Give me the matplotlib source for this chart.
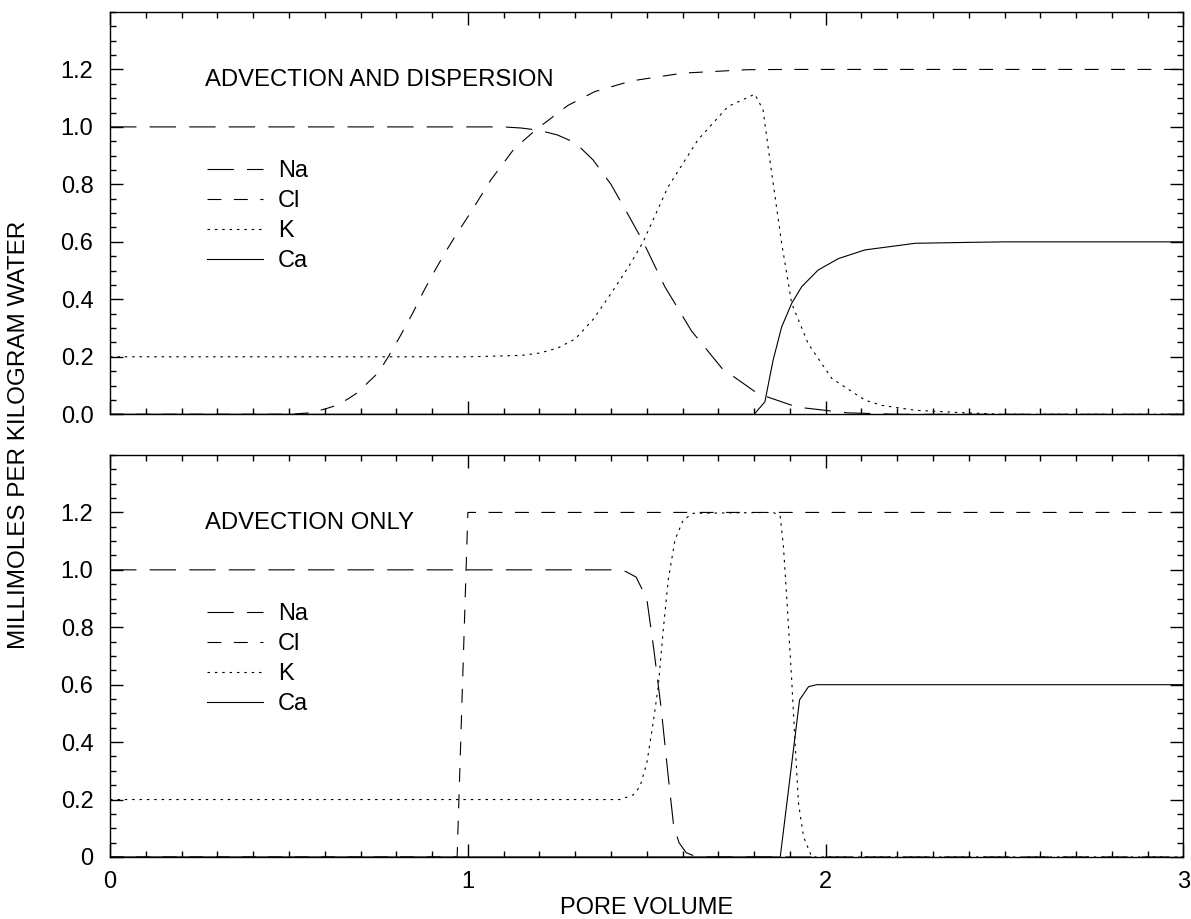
import matplotlib
matplotlib.use("Agg")
import matplotlib.pyplot as plt
from matplotlib.ticker import MultipleLocator, FixedLocator

plt.rcParams['font.family'] = ['Liberation Sans', 'DejaVu Sans']
plt.rcParams['lines.scale_dashes'] = False

# ---- data: advection and dispersion (top panel) ----
na_disp_x = [0.0, 1.10, 1.15, 1.20, 1.25, 1.30, 1.35, 1.40, 1.45, 1.49, 1.55, 1.625, 1.71, 1.81, 1.92, 2.06, 2.20, 3.0]
na_disp_y = [1.0, 1.0, 0.996, 0.988, 0.972, 0.945, 0.885, 0.80, 0.69, 0.60, 0.445, 0.29, 0.16, 0.072, 0.025, 0.005, 0.0, 0.0]

cl_disp_x = [0.0, 0.50, 0.56, 0.605, 0.635, 0.667, 0.695, 0.722, 0.75, 0.78, 0.81, 0.845, 0.878, 0.91, 0.94,
             0.97, 1.0, 1.064, 1.13, 1.195, 1.28, 1.355, 1.457, 1.60, 1.78, 1.90, 3.0]
cl_disp_y = [0.0, 0.0, 0.005, 0.02, 0.032, 0.055, 0.078, 0.112, 0.145, 0.205, 0.27, 0.35, 0.432, 0.505, 0.57,
             0.63, 0.687, 0.815, 0.925, 0.995, 1.075, 1.123, 1.16, 1.187, 1.199, 1.2, 1.2]

k_disp_x = [0.0, 1.0, 1.15, 1.20, 1.25, 1.30, 1.35, 1.40, 1.45, 1.49, 1.559, 1.643, 1.727, 1.802, 1.825,
            1.844, 1.877, 1.905, 1.951, 2.017, 2.11, 2.157, 2.25, 2.39, 2.50, 3.0]
k_disp_y = [0.2, 0.2, 0.205, 0.213, 0.23, 0.262, 0.33, 0.42, 0.515, 0.60, 0.79, 0.955, 1.071, 1.114, 1.059,
            0.885, 0.595, 0.386, 0.246, 0.125, 0.049, 0.031, 0.014, 0.005, 0.0, 0.0]

ca_disp_x = [0.0, 1.80, 1.83, 1.853, 1.877, 1.905, 1.933, 1.979, 2.036, 2.11, 2.25, 2.39, 2.50, 3.0]
ca_disp_y = [0.0, 0.0, 0.043, 0.188, 0.304, 0.386, 0.444, 0.502, 0.542, 0.572, 0.595, 0.598, 0.6, 0.6]

# ---- data: advection only (bottom panel) ----
na_adv_x = [0.0, 1.40, 1.44, 1.47, 1.50, 1.52, 1.54, 1.56, 1.575, 1.59, 1.61, 1.64, 3.0]
na_adv_y = [1.0, 1.0, 0.995, 0.975, 0.90, 0.72, 0.52, 0.28, 0.11, 0.05, 0.015, 0.0, 0.0]

cl_adv_x = [0.0, 0.97, 1.0, 3.0]
cl_adv_y = [0.0, 0.0, 1.2, 1.2]

k_adv_x = [0.0, 1.425, 1.462, 1.481, 1.50, 1.519, 1.532, 1.546, 1.56, 1.579, 1.602, 1.63, 1.854, 1.873,
           1.882, 1.891, 1.905, 1.915, 1.924, 1.938, 1.961, 3.0]
k_adv_y = [0.2, 0.2, 0.216, 0.245, 0.326, 0.477, 0.593, 0.79, 0.965, 1.105, 1.174, 1.197, 1.2, 1.186,
           1.081, 0.907, 0.617, 0.384, 0.187, 0.071, 0.0, 0.0]

ca_adv_x = [0.0, 1.873, 1.927, 1.952, 1.975, 3.0]
ca_adv_y = [0.0, 0.0, 0.547, 0.593, 0.6, 0.6]

labels = ["Na", "Cl", "K", "Ca"]
styles = [dict(dashes=(19, 9.5)), dict(dashes=(10, 9)), dict(dashes=(1.8, 3.5)), dict(linestyle="-")]

fig = plt.figure(figsize=(11.91, 9.19), dpi=100)
ax1 = fig.add_axes([0.0924, 0.5492, 0.9013, 0.4378])
ax2 = fig.add_axes([0.0924, 0.0675, 0.9013, 0.4374])

panels = [
    (ax1, [(na_disp_x, na_disp_y), (cl_disp_x, cl_disp_y), (k_disp_x, k_disp_y), (ca_disp_x, ca_disp_y)],
     "ADVECTION AND DISPERSION"),
    (ax2, [(na_adv_x, na_adv_y), (cl_adv_x, cl_adv_y), (k_adv_x, k_adv_y), (ca_adv_x, ca_adv_y)],
     "ADVECTION ONLY"),
]

fs = 17
for ax, series, title in panels:
    for (xs, ys), lab, st in zip(series, labels, styles):
        ax.plot(xs, ys, color="black", linewidth=0.8, label=lab, **st)
    ax.set_xlim(0, 3)
    ax.set_ylim(0, 1.4)
    ax.xaxis.set_major_locator(FixedLocator([0, 1, 2, 3]))
    ax.xaxis.set_minor_locator(MultipleLocator(0.1))
    ax.yaxis.set_major_locator(FixedLocator([0, 0.2, 0.4, 0.6, 0.8, 1.0, 1.2]))
    ax.yaxis.set_minor_locator(MultipleLocator(0.05))
    ax.tick_params(which="both", direction="in", top=True, right=True, width=1.0, labelsize=fs)
    ax.tick_params(which="major", length=9.5)
    ax.tick_params(which="minor", length=4.5)
    ax.tick_params(axis="y", pad=12)
    ax.tick_params(axis="x", pad=10)
    for sp in ax.spines.values():
        sp.set_linewidth(1.0)
    ax.text(0.0885, 0.831, title, transform=ax.transAxes, fontsize=17.2, va="center", ha="left")
    ax.legend(loc="upper left", bbox_to_anchor=(0.0904, 0.632), frameon=False, fontsize=fs,
              handlelength=2.37, handletextpad=0.62, labelspacing=0.34, borderpad=0, borderaxespad=0)

ax1.set_yticklabels(["0.0", "0.2", "0.4", "0.6", "0.8", "1.0", "1.2"])
ax1.tick_params(axis="x", labelbottom=False)
ax2.set_yticklabels(["0", "0.2", "0.4", "0.6", "0.8", "1.0", "1.2"])
ax2.set_xticklabels(["0", "1", "2", "3"])
ax2.set_xlabel("PORE VOLUME", fontsize=fs, labelpad=3)

fig.text(0.016, 0.527, "MILLIMOLES PER KILOGRAM WATER", rotation=90, fontsize=17.5, ha="center", va="center")

fig.savefig("out.png", dpi=100)
